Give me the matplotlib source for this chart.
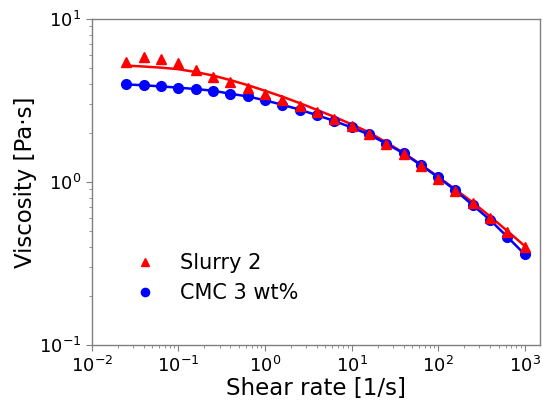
import matplotlib
matplotlib.use("Agg")
import matplotlib.pyplot as plt

# shear rate points, 5 per decade
shear_rate = [0.0251, 0.0398, 0.0631, 0.1, 0.158, 0.251, 0.398, 0.631, 1.0, 1.58,
              2.51, 3.98, 6.31, 10.0, 15.8, 25.1, 39.8, 63.1, 100.0, 158.0,
              251.0, 398.0, 631.0, 1000.0]

slurry_pts = [5.47, 5.82, 5.66, 5.37, 4.86, 4.43, 4.09, 3.76, 3.45, 3.19,
              2.94, 2.68, 2.44, 2.22, 1.97, 1.71, 1.48, 1.25, 1.05, 0.885,
              0.74, 0.605, 0.495, 0.40]
slurry_fit = [5.18, 5.11, 5.03, 4.92, 4.73, 4.50, 4.22, 3.93, 3.63, 3.34,
              3.05, 2.77, 2.51, 2.26, 2.02, 1.75, 1.51, 1.28, 1.075, 0.90,
              0.75, 0.615, 0.50, 0.405]

cmc_pts = [3.97, 3.92, 3.86, 3.79, 3.72, 3.63, 3.48, 3.35, 3.17, 2.98,
           2.78, 2.57, 2.37, 2.16, 1.96, 1.72, 1.50, 1.27, 1.07, 0.89,
           0.72, 0.585, 0.46, 0.36]

fig = plt.figure(figsize=(5.43, 4.0), dpi=100)
ax = fig.add_axes([0.169, 0.1375, 0.825, 0.815])

ax.plot(shear_rate, slurry_fit, color='red', linewidth=1.8, zorder=2)
ax.plot(shear_rate, cmc_pts, color='blue', linewidth=1.8, zorder=2)
ax.plot(shear_rate, cmc_pts, 'o', color='blue', markersize=7, label='CMC 3 wt%', zorder=3)
ax.plot(shear_rate, slurry_pts, '^', color='red', markersize=7, label='Slurry 2', zorder=4)

ax.set_xscale('log')
ax.set_yscale('log')
ax.set_xlim(1e-2, 1490)
ax.set_ylim(1e-1, 1e1)

ax.set_xlabel('Shear rate [1/s]', fontsize=16.5, labelpad=1)
ax.set_ylabel('Viscosity [Pa·s]', fontsize=16.5, labelpad=1)
ax.tick_params(axis='both', which='major', labelsize=13, colors='#808080', labelcolor='black', length=4)
ax.tick_params(axis='both', which='minor', colors='#808080', length=2)

for sp in ax.spines.values():
    sp.set_color('#808080')
    sp.set_linewidth(1.0)

handles, labels = ax.get_legend_handles_labels()
ax.legend(handles[::-1], labels[::-1], loc='lower left', frameon=False, fontsize=15,
          bbox_to_anchor=(0.03, 0.07), markerscale=0.85, handletextpad=0.7)

fig.savefig('out.png', dpi=100)
